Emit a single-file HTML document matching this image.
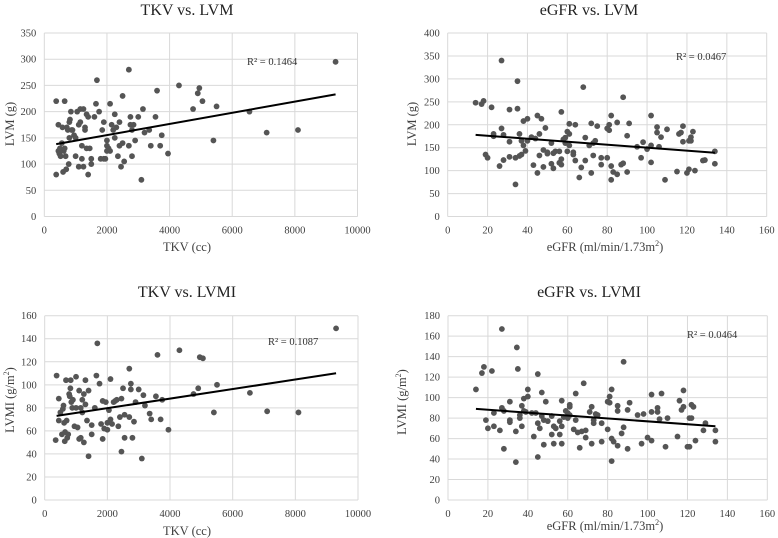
<!DOCTYPE html>
<html><head><meta charset="utf-8">
<style>
html,body{margin:0;padding:0;background:#fff;}
svg{display:block;font-family:"Liberation Serif",serif;}
</style></head>
<body>
<svg id="chart" width="778" height="538" viewBox="0 0 778 538" xmlns="http://www.w3.org/2000/svg"></svg>
<script>
// ---- Data ----
const tkvA = [380,380,450,450,480,500,520,560,580,600,620,650,650,680,700,720,750,780,800,800,820,850,870,900,950,1000,1000,1050,1100,1100,1150,1150,1200,1200,1250,1250,1300,1300,1350,1350,1400,1400,1450,1500,1500,1600,1650,1680,1750,1800,1850,1900,1900,1950,2000,2000,2000,2050,2100,2100,2150,2200,2250,2250,2300,2350,2400,2400,2450,2500,2500,2550,2700,2700,2750,2750,2800,2800,2850,2900,3000,3100,3150,3200,3350,3400,3550,3600,3700,3750,3950,4300,4750,4900,4950,5050,5400,5500,6550,7100,8100,9300];
const lvmA = [80,220,175,125,120,130,115,140,170,85,125,220,130,115,90,170,165,100,180,150,185,200,165,165,155,115,150,200,95,175,180,205,135,110,205,95,170,165,195,130,80,190,130,100,110,190,215,260,200,110,165,180,110,110,145,135,125,130,215,125,175,165,195,150,170,115,135,180,95,230,140,105,280,135,175,190,165,115,175,145,190,70,205,160,165,135,190,240,135,155,120,250,205,235,245,220,145,210,200,160,165,295];
const tkvC = [350,380,450,450,500,550,580,600,620,640,650,680,700,720,750,780,800,820,830,850,880,900,950,1000,1000,1050,1100,1100,1150,1150,1200,1200,1250,1250,1300,1300,1350,1400,1400,1500,1500,1600,1650,1680,1750,1800,1850,1850,1900,1950,2000,2000,2050,2100,2100,2150,2200,2250,2300,2350,2400,2450,2450,2500,2550,2550,2700,2700,2750,2750,2800,2850,2900,3000,3100,3150,3200,3350,3400,3550,3600,3700,3750,3950,4300,4750,4900,4950,5050,5400,5500,6550,7100,8100,9300];
const lvmiC = [52,108,88,69,76,57,79,82,67,51,59,104,69,54,57,92,90,97,104,85,80,87,64,80,107,63,53,95,80,54,76,87,92,50,104,83,69,95,38,57,65,80,108,136,101,66,53,86,62,85,67,61,78,70,105,66,85,86,87,64,72,42,88,97,54,74,114,72,101,96,54,68,85,96,36,91,82,75,70,90,126,70,87,61,130,92,97,124,123,76,100,93,77,76,149];
const egfrB = [14,17,18,19,20,22,23,23,26,27,27,28,28,31,31,31,34,34,35,35,36,36,37,37,38,38,39,40,40,42,43,44,45,45,46,46,47,48,48,49,50,50,52,52,53,53,54,56,56,57,57,57,58,59,59,60,60,61,61,61,63,63,64,64,66,67,68,69,69,71,72,72,73,73,74,75,77,77,80,80,81,81,82,82,82,83,85,85,87,88,88,90,90,91,95,97,98,100,102,102,102,105,105,106,107,109,110,115,116,117,118,118,120,121,121,122,122,123,124,128,129,134,134];
const lvmB = [248,245,252,135,128,238,175,180,110,340,192,123,178,233,163,130,70,128,295,235,180,132,165,135,208,155,143,213,165,173,112,170,220,95,133,180,213,145,108,193,140,137,160,115,105,138,142,142,117,228,125,113,168,172,160,142,185,180,155,202,140,135,200,122,85,107,282,172,122,155,203,95,133,160,165,197,128,113,192,128,200,188,220,110,80,97,92,205,113,116,260,97,176,203,152,128,162,147,220,118,155,195,183,152,173,80,190,98,180,183,197,163,95,103,165,165,173,185,100,122,123,142,115];
const egfrD = [14,17,18,19,20,22,23,23,26,27,27,28,28,31,31,31,34,34,34.5,35,36,36,37,37,38,38,39,40,40,42,43,44,45,45,45,46,47,47,48,48,49,50,52,52,53,53,54,56,56,57,57,57,58,59,60,60,61,61,61,63,64,64,65,66,67,68,69,69,71,72,72,73,73,74,75,77,77,80,80,81,81,82,82,82,83,85,85,85,87,88,88,90,90,91,95,97,98,100,102,102,102,105,105,106,107,109,110,115,116,117,118,118,120,121,121,122,122,123,124,128,129,134,134];
const lvmiD = [108,124,130,78,70,126,85,72,68,167,90,50,87,96,78,76,37,67,149,128,83,80,92,72,99,87,86,101,108,85,62,85,123,42,75,70,82,105,78,54,96,77,64,82,55,72,70,77,64,97,72,55,81,87,80,85,91,93,83,69,78,104,66,51,67,114,61,68,86,91,55,78,75,84,83,75,57,69,96,101,95,108,60,38,57,92,53,87,65,71,135,50,88,95,83,55,84,61,103,86,58,90,86,79,104,52,80,62,97,88,107,91,52,52,80,80,93,91,58,68,75,68,57];
// trend line endpoints [x1,x2] and [y1,y2]
const trendAx = [380,9300], trendAy = [138,233];
const trendBx = [14,134],   trendBy = [178,139];
const trendCx = [380,9300], trendCy = [73,110];
const trendDx = [14,134],   trendDy = [89,72];
const xTicksTKV = [0,2000,4000,6000,8000,10000];
const xTicksEGFR = [0,20,40,60,80,100,120,140,160];
const yTicksA = [0,50,100,150,200,250,300,350];
const yTicksB = [0,50,100,150,200,250,300,350,400];
const yTicksC = [0,20,40,60,80,100,120,140,160];
const yTicksD = [0,20,40,60,80,100,120,140,160,180];
const r2Labels = ["R² = 0.1464","R² = 0.0467","R² = 0.1087","R² = 0.0464"];

const NS = "http://www.w3.org/2000/svg";
const svg = document.getElementById("chart");
function mk(tag, attrs, parent){
  const e = document.createElementNS(NS, tag);
  for (const k in attrs) e.setAttribute(k, attrs[k]);
  (parent||svg).appendChild(e);
  return e;
}

function panel(cfg){
  const g = mk("g", {});
  
  
  const xMax = cfg.xt[cfg.xt.length-1], yMax = cfg.yt[cfg.yt.length-1];
  const sx = v => cfg.L + (v / xMax) * (cfg.R - cfg.L);
  const sy = v => cfg.B - (v / yMax) * (cfg.B - cfg.T);
  // gridlines
  cfg.yt.forEach(t => {
    const l = mk("line", {x1:cfg.L, x2:cfg.R, y1:sy(t), y2:sy(t), stroke:"#d9d9d9", "stroke-width":1}, g);
    
    
    const tx = mk("text", {x:cfg.L-8, y:sy(t)+3.5, "text-anchor":"end", "font-size":"10.5", fill:"#404040"}, g);
    tx.textContent = t;
    
    
  });
  cfg.xt.forEach(t => {
    const l = mk("line", {x1:sx(t), x2:sx(t), y1:cfg.T, y2:cfg.B, stroke:"#d9d9d9", "stroke-width":1}, g);
    
    
    const tx = mk("text", {x:sx(t), y:cfg.B+17, "text-anchor":"middle", "font-size":"10.5", fill:"#404040"}, g);
    tx.textContent = t;
    
    
  });
  // points
  cfg.xs.forEach((xv, i) => {
    const c = mk("circle", {cx:sx(xv), cy:sy(cfg.ys[i]), r:2.9, fill:"#555"}, g);
    
    
  });
  // trend
  const tl = mk("line", {x1:sx(cfg.tx[0]), y1:sy(cfg.ty[0]), x2:sx(cfg.tx[1]), y2:sy(cfg.ty[1]), stroke:"#000", "stroke-width":2}, g);
  
  
  // r2
  const r = mk("text", {x:cfg.r2x, y:cfg.r2y, "font-size":"10.5", fill:"#333"}, g);
  r.textContent = cfg.r2;
  
  
  // title
  const t = mk("text", {x:cfg.tcx, y:cfg.ty0, "text-anchor":"middle", "font-size":"16", fill:"#222"}, g);
  t.textContent = cfg.title;
  
  
  // x title
  const xt = mk("text", {x:cfg.xcx, y:cfg.xty, "text-anchor":"middle", "font-size":"12.5", fill:"#404040"}, g);
  xt.innerHTML = cfg.xtitle;
  
  
  // y title
  const yt = mk("text", {x:0, y:0, "text-anchor":"middle", "font-size":"12.5", fill:"#404040", transform:`translate(${cfg.ytx},${cfg.yty}) rotate(-90)`}, g);
  yt.innerHTML = cfg.ytitle;
  
  
}

const egfrTitle = 'eGFR (ml/min/1.73m<tspan font-size="8" dy="-5">2</tspan><tspan dy="5">)</tspan>';
const lvmiTitle = 'LVMI (g/m<tspan font-size="8" dy="-5">2</tspan><tspan dy="5">)</tspan>';

panel({name:"panel-tkv-lvm", L:44.3, R:357.5, T:33, B:216.5, xt:xTicksTKV, yt:yTicksA, xs:tkvA, ys:lvmA, tx:trendAx, ty:trendAy,
  r2:r2Labels[0], r2x:247, r2y:65, title:"TKV vs. LVM", tcx:187, ty0:15, xtitle:"TKV (cc)", xcx:187, xty:251, ytitle:"LVM (g)", ytx:14, yty:124});
panel({name:"panel-egfr-lvm", L:447.7, R:766.7, T:33, B:216.5, xt:xTicksEGFR, yt:yTicksB, xs:egfrB, ys:lvmB, tx:trendBx, ty:trendBy,
  r2:r2Labels[1], r2x:676, r2y:60, title:"eGFR vs. LVM", tcx:589, ty0:15, xtitle:egfrTitle, xcx:605, xty:251, ytitle:"LVM (g)", ytx:416, yty:124});
panel({name:"panel-tkv-lvmi", L:44.7, R:358, T:315.7, B:500, xt:xTicksTKV, yt:yTicksC, xs:tkvC, ys:lvmiC, tx:trendCx, ty:trendCy,
  r2:r2Labels[2], r2x:268, r2y:345, title:"TKV vs. LVMI", tcx:187, ty0:297, xtitle:"TKV (cc)", xcx:187, xty:535, ytitle:lvmiTitle, ytx:14, yty:400});
panel({name:"panel-egfr-lvmi", L:448, R:767.3, T:315.7, B:500, xt:xTicksEGFR, yt:yTicksD, xs:egfrD, ys:lvmiD, tx:trendDx, ty:trendDy,
  r2:r2Labels[3], r2x:687, r2y:338, title:"eGFR vs. LVMI", tcx:589, ty0:297, xtitle:egfrTitle, xcx:605, xty:530, ytitle:lvmiTitle, ytx:406, yty:402});
</script>
</body></html>
